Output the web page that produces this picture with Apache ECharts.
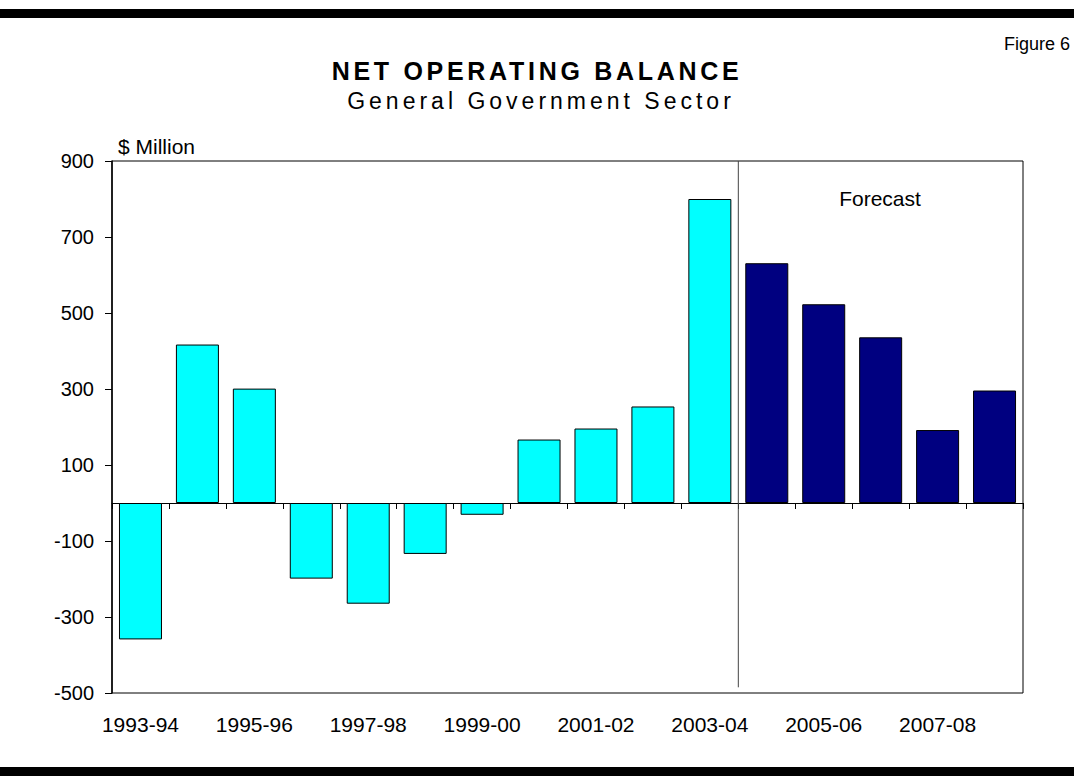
<!DOCTYPE html>
<html>
<head>
<meta charset="utf-8">
<title>Net Operating Balance</title>
<script src="https://cdn.jsdelivr.net/npm/echarts@6/dist/echarts.min.js"></script>
<style>
  html, body { margin: 0; padding: 0; background: #fff; }
  #chart { width: 1074px; height: 776px; }
  /* spaced-out heading lines (SVG renderer) */
  #chart text[style*="25px"] { letter-spacing: 3.7px; }
  #chart text[style*="23px"] { letter-spacing: 4px; }
</style>
</head>
<body>
<div id="chart"></div>
<script>
// Financial years shown on the category axis
const categories = [
  '1993-94', '1994-95', '1995-96', '1996-97', '1997-98', '1998-99',
  '1999-00', '2000-01', '2001-02', '2002-03', '2003-04', '2004-05',
  '2005-06', '2006-07', '2007-08', '2008-09'
];
// Net operating balance, $ million
const balance = [
  -359, 417, 301, -199, -265, -134,
  -31, 167, 196, 254, 800, 631,
  523, 436, 192, 296
];
// Index of the first forecast year
const forecastFrom = 11;
// Value axis range and labelled ticks
const yMin = -500;
const yMax = 900;
const yTicks = [-500, -300, -100, 100, 300, 500, 700, 900];

const FONT = '"Liberation Sans", Arial, Helvetica, sans-serif';
const ACTUAL_COLOR = '#00FFFF';
const FORECAST_COLOR = '#000080';

const chart = echarts.init(document.getElementById('chart'), null, { renderer: 'svg' });

chart.setOption({
  animation: false,
  backgroundColor: '#ffffff',
  grid: {
    left: 112, right: 51, top: 161, bottom: 83,
    show: true, borderColor: '#000', borderWidth: 1,
    containLabel: false
  },
  graphic: [
    { type: 'rect', left: 0, top: 9, shape: { width: 1074, height: 9 }, style: { fill: '#000' }, silent: true },
    { type: 'rect', left: 0, top: 767, shape: { width: 1074, height: 9 }, style: { fill: '#000' }, silent: true },
    {
      type: 'text', x: 1070, y: 44,
      style: { text: 'Figure 6', fontFamily: FONT, fontSize: 18, fill: '#000', align: 'right', verticalAlign: 'middle' }
    },
    {
      type: 'text', x: 537, y: 71,
      style: { text: 'NET OPERATING BALANCE', fontFamily: FONT, fontSize: 25, fontWeight: 'bold', fill: '#000', align: 'center', verticalAlign: 'middle' }
    },
    {
      type: 'text', x: 541, y: 101,
      style: { text: 'General Government Sector', fontFamily: FONT, fontSize: 23, fill: '#000', align: 'center', verticalAlign: 'middle' }
    },
    {
      type: 'text', x: 880, y: 198,
      style: { text: 'Forecast', fontFamily: FONT, fontSize: 21, fill: '#000', align: 'center', verticalAlign: 'middle' }
    }
  ],
  xAxis: [
    {
      // axis through zero with boundary ticks
      type: 'category',
      data: categories,
      position: 'bottom',
      axisLine: { onZero: true, lineStyle: { color: '#000', width: 1 } },
      axisTick: { show: true, interval: 0, length: 6, lineStyle: { color: '#000', width: 1 } },
      axisLabel: { show: false },
      splitLine: { show: false }
    },
    {
      // year labels along the bottom edge
      type: 'category',
      data: categories,
      position: 'bottom',
      axisLine: { show: false, onZero: false },
      axisTick: { show: false },
      axisLabel: { interval: 1, margin: 21, color: '#000', fontFamily: FONT, fontSize: 21 },
      splitLine: { show: false }
    }
  ],
  yAxis: {
    type: 'value',
    min: yMin,
    max: yMax,
    name: '$ Million',
    nameLocation: 'end',
    nameGap: 15,
    nameTextStyle: { color: '#000', fontFamily: FONT, fontSize: 21, align: 'left', verticalAlign: 'middle', padding: [0, 0, 0, 6] },
    axisLine: { show: true, lineStyle: { color: '#000', width: 1.5 } },
    axisTick: { show: true, length: 7, customValues: yTicks, lineStyle: { color: '#000', width: 1 } },
    axisLabel: { customValues: yTicks, margin: 18, color: '#000', fontFamily: FONT, fontSize: 20 },
    splitLine: { show: false }
  },
  series: [
    {
      type: 'bar',
      xAxisIndex: 0,
      data: balance,
      barWidth: 43,
      itemStyle: {
        color: (p) => (p.dataIndex >= forecastFrom ? FORECAST_COLOR : ACTUAL_COLOR),
        borderColor: '#000',
        borderWidth: 1
      },
      z: 2
    },
    {
      // divider between actual and forecast years
      type: 'custom',
      xAxisIndex: 0,
      data: [[forecastFrom, yMax, -485]],
      renderItem: (params, api) => {
        const half = api.size([1, 0])[0] / 2;
        const top = api.coord([api.value(0), api.value(1)]);
        const bottom = api.coord([api.value(0), api.value(2)]);
        const x = top[0] - half;
        return {
          type: 'line',
          shape: { x1: x, y1: top[1], x2: x, y2: bottom[1] },
          style: { stroke: '#444', lineWidth: 1 }
        };
      },
      silent: true,
      z: 3
    }
  ]
});
</script>
</body>
</html>
